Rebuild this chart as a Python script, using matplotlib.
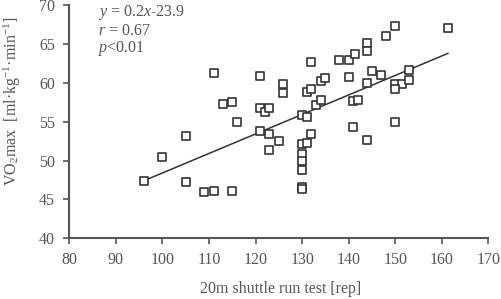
import matplotlib
matplotlib.use("Agg")
import matplotlib.pyplot as plt

# 20mシャトルラン回数と VO2max の散布図 (値は図から読み取り)
shuttle = [96, 100, 105, 105, 109, 111, 111, 113, 115, 115,
           116, 121, 121, 122, 123, 121, 123, 123, 125, 126,
           126, 130, 131, 130, 131, 132, 130, 130, 130, 130,
           130, 131, 132, 132, 133, 134, 134, 135, 138, 140,
           141.3, 140, 141, 142, 141, 144, 144, 144, 144, 145,
           147, 148, 150, 150, 151.4, 150, 150, 153, 153, 161.3]
vo2max = [47.4, 50.5, 53.2, 47.2, 45.9, 46.1, 61.3, 57.3, 57.5, 46.1,
          54.9, 60.9, 56.8, 56.3, 56.8, 53.8, 53.4, 51.3, 52.5, 59.8,
          58.7, 55.9, 55.6, 52.1, 52.2, 53.4, 50.9, 49.9, 48.8, 46.6,
          46.3, 58.8, 59.2, 62.7, 57.1, 57.8, 60.2, 60.6, 62.9, 62.9,
          63.7, 60.7, 57.7, 57.8, 54.3, 65.1, 64.1, 60.0, 52.6, 61.5,
          61.0, 66.0, 67.3, 59.8, 59.8, 59.2, 54.9, 61.7, 60.3, 67.1]

# 回帰直線 (図の線から読み取った傾きと切片)
fit_coef = [0.251, 23.3]

x_ticks = [80, 90, 100, 110, 120, 130, 140, 150, 160, 170]
y_ticks = [40, 45, 50, 55, 60, 65, 70]

plt.rcParams['font.family'] = ['Liberation Serif', 'DejaVu Serif']
plt.rcParams['mathtext.fontset'] = 'custom'
plt.rcParams['mathtext.rm'] = 'Liberation Serif'
plt.rcParams['mathtext.it'] = 'Liberation Serif:italic'

txt = '#555555'
fs = 11.5
fig = plt.figure(figsize=(5.01, 2.99), dpi=100)
ax = fig.add_axes([0.138, 0.203, 0.837, 0.780])

ax.scatter(shuttle, vo2max, marker='s', s=36, facecolors='white',
           edgecolors='#333333', linewidths=1.2, zorder=3)

lx = [min(shuttle), max(shuttle)]
ly = [fit_coef[0] * v + fit_coef[1] for v in lx]
ax.plot(lx, ly, color='#333333', lw=1.1, zorder=2)

ax.set_xlim(80, 170)
ax.set_ylim(40, 70)
ax.set_xticks(x_ticks)
ax.set_yticks(y_ticks)
for s in ['top', 'right']:
    ax.spines[s].set_visible(False)
for s in ['left', 'bottom']:
    ax.spines[s].set_color('#555555')
    ax.spines[s].set_linewidth(1.5)
ax.tick_params(direction='out', length=4, width=1.2, color='#555555',
               labelcolor=txt, labelsize=fs, pad=6)

# ラベル
fig.text(0.561, 0.006, '20m shuttle run test [rep]', ha='center',
         va='bottom', fontsize=fs, color=txt)
fig.text(0.004, 0.66, r'VO$_2$max  [ml·kg$^{-1}$·min$^{-1}$]',
         rotation=90, ha='left', va='center', fontsize=fs, color=txt)

# 回帰式
fig.text(0.196, 1 - 12.7 / 299, r'$\it{y}$ = 0.2$\it{x}$-23.9',
         va='center', fontsize=fs, color=txt)
fig.text(0.196, 1 - 30.7 / 299, r'$\it{r}$ = 0.67',
         va='center', fontsize=fs, color=txt)
fig.text(0.196, 1 - 48.3 / 299, r'$\it{p}$<0.01',
         va='center', fontsize=fs, color=txt)

fig.savefig('out.png', dpi=100)
